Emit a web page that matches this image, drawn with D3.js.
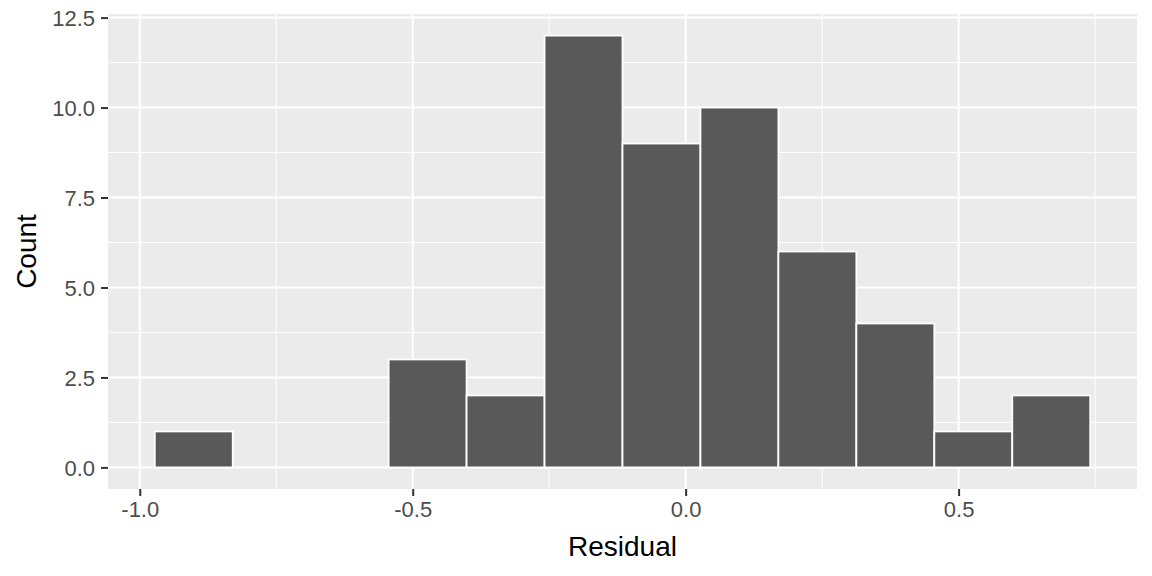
<!DOCTYPE html>
<html>
<head>
<meta charset="utf-8">
<script src="https://cdn.jsdelivr.net/npm/d3@7"></script>
<style>
  body { margin: 0; background: #fff; }
  svg { display: block; font-family: "Liberation Sans", Arial, sans-serif; }
</style>
</head>
<body>
<div id="chart"></div>
<script>
// histogram bins of residuals (12 bins)
var binEdges = [-0.9725, -0.8297, -0.6869, -0.5441, -0.4013, -0.2585, -0.1157,
                0.0271, 0.1699, 0.3127, 0.4555, 0.5983, 0.7411];
var counts = [1, 0, 0, 3, 2, 12, 9, 10, 6, 4, 1, 2];
var xTicks = [-1.0, -0.5, 0.0, 0.5];
var xMinor = [-0.75, -0.25, 0.25, 0.75];
var yTicks = [0, 2.5, 5, 7.5, 10, 12.5];
var yMinor = [1.25, 3.75, 6.25, 8.75, 11.25];

var width = 1152, height = 576;
var margin = {top: 14, right: 15, bottom: 87, left: 108};

var bins = counts.map(function(c, i) {
    return {x0: binEdges[i], x1: binEdges[i + 1], n: c};
});

// ggplot prints a plain hyphen for negatives
var fmt = d3.formatLocale({decimal: ".", thousands: ",", grouping: [3], currency: ["", ""], minus: "-"}).format(".1f");

var svg = d3.select("#chart").append("svg")
    .attr("width", width)
    .attr("height", height);

var lo = binEdges[0], hi = binEdges[binEdges.length - 1];
var pad = (hi - lo) * 0.05;
var x = d3.scaleLinear()
    .domain([lo - pad, hi + pad])
    .range([margin.left, width - margin.right]);

var yMax = d3.max(counts);
var y = d3.scaleLinear()
    .domain([-yMax * 0.05, yMax * 1.05])
    .range([height - margin.bottom, margin.top]);

// panel background
svg.append("rect")
    .attr("x", margin.left)
    .attr("y", margin.top)
    .attr("width", width - margin.left - margin.right)
    .attr("height", height - margin.top - margin.bottom)
    .attr("fill", "#EBEBEB");

var grid = svg.append("g");

grid.selectAll(".xminor").data(xMinor).enter().append("line")
    .attr("x1", d => x(d)).attr("x2", d => x(d))
    .attr("y1", margin.top).attr("y2", height - margin.bottom)
    .attr("stroke", "#fff").attr("stroke-width", 1);

grid.selectAll(".yminor").data(yMinor).enter().append("line")
    .attr("x1", margin.left).attr("x2", width - margin.right)
    .attr("y1", d => y(d)).attr("y2", d => y(d))
    .attr("stroke", "#fff").attr("stroke-width", 1);

grid.selectAll(".xmajor").data(xTicks).enter().append("line")
    .attr("x1", d => x(d)).attr("x2", d => x(d))
    .attr("y1", margin.top).attr("y2", height - margin.bottom)
    .attr("stroke", "#fff").attr("stroke-width", 2);

grid.selectAll(".ymajor").data(yTicks).enter().append("line")
    .attr("x1", margin.left).attr("x2", width - margin.right)
    .attr("y1", d => y(d)).attr("y2", d => y(d))
    .attr("stroke", "#fff").attr("stroke-width", 2);

// bars
svg.append("g").selectAll("rect")
    .data(bins.filter(d => d.n > 0))
    .enter()
    .append("rect")
    .attr("x", d => x(d.x0))
    .attr("width", d => x(d.x1) - x(d.x0))
    .attr("y", d => y(d.n))
    .attr("height", d => y(0) - y(d.n))
    .attr("fill", "#595959")
    .attr("stroke", "#fff")
    .attr("stroke-width", 1.8);

// axes
var xAxis = svg.append("g")
    .attr("transform", "translate(0," + (height - margin.bottom) + ")")
    .call(d3.axisBottom(x).tickValues(xTicks).tickFormat(fmt).tickSizeOuter(0).tickSize(7).tickPadding(5));

var yAxis = svg.append("g")
    .attr("transform", "translate(" + margin.left + ",0)")
    .call(d3.axisLeft(y).tickValues(yTicks).tickFormat(fmt).tickSizeOuter(0).tickSize(7).tickPadding(6));

[xAxis, yAxis].forEach(function(a) {
    a.select(".domain").remove();
    a.selectAll(".tick line").attr("stroke", "#333").attr("stroke-width", 2);
    a.selectAll(".tick text")
        .attr("fill", "#4D4D4D")
        .style("font-size", "22px")
        .style("font-family", "Liberation Sans, Arial, sans-serif");
});
yAxis.selectAll(".tick text").attr("dy", "0.36em");

// axis titles
svg.append("text")
    .attr("x", (margin.left + width - margin.right) / 2)
    .attr("y", 556)
    .attr("text-anchor", "middle")
    .style("font-size", "28px")
    .attr("fill", "#000")
    .text("Residual");

svg.append("text")
    .attr("transform", "translate(36," + ((margin.top + height - margin.bottom) / 2) + ") rotate(-90)")
    .attr("text-anchor", "middle")
    .style("font-size", "28px")
    .attr("fill", "#000")
    .text("Count");
</script>
</body>
</html>
